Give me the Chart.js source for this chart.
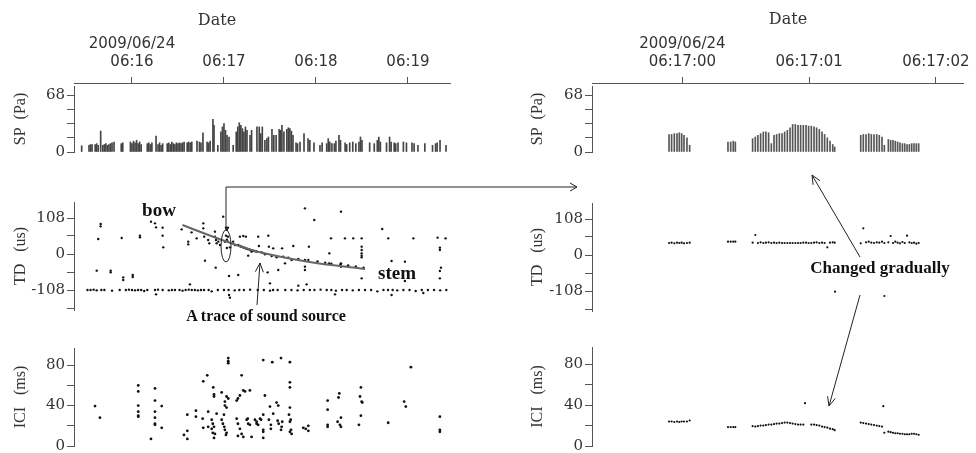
<!DOCTYPE html>
<html>
<head>
<meta charset="utf-8">
<script src="https://cdn.jsdelivr.net/npm/chart.js@4.4.1/dist/chart.umd.min.js"></script>
<style>
  html, body { margin: 0; padding: 0; background: #fff; }
  #page { position: relative; width: 976px; height: 453px; overflow: hidden; }
  #page canvas { position: absolute; }
  #notes { position: absolute; left: 0; top: 0; pointer-events: none; }
</style>
</head>
<body>
<div id="page">
  <canvas id="dateL"></canvas>
  <canvas id="spL"></canvas>
  <canvas id="tdL"></canvas>
  <canvas id="iciL"></canvas>
  <canvas id="dateR"></canvas>
  <canvas id="spR"></canvas>
  <canvas id="tdR"></canvas>
  <canvas id="iciR"></canvas>
  <svg id="notes" width="976" height="453"></svg>
</div>
<script>
// ---- data (left: seconds after 06:15:00, right: seconds after 06:17:00) ----
const dateLine = '2009/06/24';
const leftTickTimes = [60, 120, 180, 240];
const leftTickLabels = ['06:16', '06:17', '06:18', '06:19'];
const rightTickTimes = [0, 1, 2];
const rightTickLabels = ['06:17:00', '06:17:01', '06:17:02'];

const spTicks = [0, 17, 34, 51, 68];
const spLabelled = [0, 68];
const tdTicks = [-162, -108, -54, 0, 54, 108];
const tdLabelled = [-108, 0, 108];
const iciTicks = [0, 20, 40, 60, 80];
const iciLabelled = [0, 40, 80];

const leftSpTime = [
  27.2, 32, 33, 34, 36, 37, 38, 39.6, 41, 42,
  43, 44, 45, 46, 47, 48.3, 53, 54, 59, 60,
  61, 62, 63, 64, 65, 66, 70, 71, 72, 73,
  75.7, 77, 78, 79, 80, 83, 84, 85, 86, 87,
  88, 89, 90, 91, 92, 93, 94, 96, 97, 98,
  99, 102.4, 104, 105, 106.3, 109, 110, 111, 112.8, 113.5,
  116, 118, 119, 120, 121, 122, 123.3, 126, 128, 129,
  130, 131, 132, 133, 134, 135, 137, 138, 141.5, 143,
  144, 145, 146.7, 148, 149, 151.3, 152.5, 154, 156, 157,
  157.8, 159.1, 161, 162, 163, 164, 165, 167, 168, 169.6,
  172.2, 174.8, 176, 178.7, 182.6, 184, 187, 188, 189, 190.4,
  192, 193, 195, 196, 199, 200, 202, 204, 206, 208,
  209, 210, 215, 218, 220, 221, 222, 226, 228, 229,
  231, 232, 233.5, 237, 239, 242.6, 244, 246.5, 251, 256,
  258, 259, 260.9, 264.8
];
const leftSpValue = [
  7.5, 8, 9, 9, 9, 10, 8, 25, 8, 9,
  10, 8, 9, 10, 11, 12, 10, 11, 12, 10,
  13, 11, 14, 10, 12, 9, 10, 11, 9, 11,
  19, 9, 11, 8, 10, 10, 11, 9, 12, 10,
  9, 11, 10, 11, 10, 11, 12, 11, 12, 11,
  12, 13, 12, 11, 23, 12, 11, 13, 39, 32,
  8, 24, 30, 34, 26, 20, 18, 8, 24, 30,
  35, 32, 28, 24, 30, 26, 20, 26, 30, 30,
  22, 30, 14, 16, 18, 27, 20, 20, 27, 26,
  32, 24, 27, 29, 28, 25, 20, 11, 10, 12,
  22, 16, 14, 11, 8, 11, 10, 16, 12, 10,
  10, 13, 20, 14, 11, 9, 11, 12, 10, 12,
  18, 14, 11, 10, 14, 18, 12, 11, 18, 12,
  11, 10, 11, 12, 11, 11, 10, 8, 10, 8,
  10, 11, 14, 8
];

const leftTdTime = [
  37, 38, 39.6, 39.6, 46.1, 46.1, 53.3, 54.3, 54.3, 60.5, 60.5, 65.2, 65.2,
  72.4, 75, 75.7, 80, 80, 80.4, 92.4, 96.7, 96.7, 97.8, 98.9, 102.2,
  106.5, 106.5, 107.1, 107.6, 109.7, 110.4, 114.1, 114.1, 114.8, 115.2, 116.3, 117.4, 114.6, 119.5,
  121.3, 121.9, 122.6, 121.3, 122.6, 121.9, 120.6, 122.6, 123.9, 121.9,
  123.3, 126, 127.2, 129.3, 130.4, 132.6, 134.3,
  129.3, 130.4, 131.2, 132.1, 133, 133.8, 134.6, 135.5, 136.3, 137.2, 138, 138.9, 139.8, 140.6, 141.5,
  135.8, 138,
  172.8, 196.3, 178.9, 223.2, 142.3, 148.9, 189.8, 198.9, 204.3, 209.8, 227.1, 243.5, 259.3, 264.5,
  142.8, 149.3, 152.1, 157.9, 165.2, 175.4, 188.7, 209.8, 209.8, 209.8, 209.8, 209.8,
  144.6, 146.7, 151.1, 154.3, 158.6, 161.9, 164.1, 168.5, 172.8, 175, 172.8, 172.8,
  181, 186, 190, 196, 201, 206, 211,
  159.8, 155.4, 148.5, 188.5, 196.3, 196.3, 209.8, 229.3, 238, 238, 260.8, 260.8, 261.5, 260.8, 260.8,
  150, 173.9, 168.5,
  75.7, 123.3, 123.9, 192.4, 229.3, 250
];
const leftTdValue = [
  -50, 45, 90, 83, -50, -55, 48, -70, -78, -63, -69, 55, 50,
  97, 92, 80, 79, 55, 20, 74, 37, 29, -91, 65, 47,
  92, 77, 52, -20, 42, 32, 67, 52, 42, 32, 37, 27, -41, 112,
  79, 73, 79, 55, 52, 43, 37, 37, 20, 18,
  -66, 37, 27, -63, 52, 54, 52,
  27, 24, 22, 21, 19, 18, 16, 15, 14, 12, 11, 10, 9, 8, 7,
  -5, 7,
  137, 127, 102, 75, 52, 55, 47, 47, 47, 47, 47, 47, 49, 47,
  24, 22, 17, 17, 24, 22, 2, 22, 12, 2, -5, -10,
  5, -1, -6, -10, -8, -11, -18, -15, -18, -18, -38, -48,
  -22, -26, -29, -31, -34, -37, -41,
  -28, -48, -55, -28, -28, -38, -73, -21, -23, -81, 19, 12, -41, -51, -73,
  -88, -91, -95,
  -121, -123, -131, -121, -123, -117
];
// the dense row of detections near -108 us
const leftRowTime = [
  31, 33, 35, 37, 40, 42, 47, 52, 56, 58, 60, 62, 64, 66, 68, 70, 75, 77, 80, 84,
  86, 88, 91, 93, 95, 97, 99, 101, 103, 105, 107, 110, 112, 116, 120, 123, 127, 130, 133, 137,
  142, 146, 150, 152, 155, 160, 164, 168, 172, 176, 179, 183, 187, 190, 193, 197, 200, 204, 208, 212,
  216, 220, 224, 227, 230, 233, 237, 241, 245, 249, 253, 257, 261, 265
];
const leftRowValue = [
  -108, -108, -107, -109, -108, -108, -110, -108, -108, -107, -108, -109, -108, -108, -111, -108, -108, -107, -108, -109,
  -108, -108, -108, -110, -108, -107, -108, -108, -109, -108, -108, -108, -112, -108, -108, -108, -109, -108, -108, -107,
  -108, -108, -110, -108, -108, -108, -108, -109, -108, -108, -108, -107, -108, -108, -110, -108, -108, -109, -108, -108,
  -108, -112, -108, -108, -108, -109, -108, -108, -111, -108, -108, -108, -109, -108
];
// sound source trace (bow -> stem)
const traceTime = [92.9, 121.8, 142.2, 174.8, 212.0];
const traceValue = [87, 37, 7, -23, -45];

const leftIciTime = [
  35.9, 39.1,
  64.1, 64.1, 64.1, 64.1, 64.1, 64.1,
  72.4,
  75, 75, 75, 75, 75, 75,
  79.4, 79.4,
  93.9, 96.1, 96.1, 96.1,
  101.7, 101.7, 106.1, 106.5, 106.5, 109.1, 109.7, 115.2,
  113, 113.5, 113.5,
  112, 112.7, 113.5, 112, 112.7, 114.1, 113.5, 109.7,
  118.5, 120.6, 120.6, 121.7, 121.7, 122.8, 120,
  118.5, 119.3, 120.2, 120.6, 121.7, 121.3,
  122.8, 122.8, 122.8,
  128.3, 129.1, 130.4, 131.5, 132.6, 133.7, 136.9,
  128.3, 129.1, 130.4, 131.5, 132.6, 129.1, 134.8, 135.8, 136.9, 138, 140.2, 141.3, 135.5,
  145.6, 151.5, 157.2, 163, 163, 163, 146.7, 150, 154.3, 155.4, 163, 152.1,
  141.3, 143.5, 144.2, 145.6, 142.3, 145.6, 145.6,
  149.3, 150.6, 155, 155.7, 157.6, 158, 157.2, 150.6,
  145.6,
  162.4, 163.5, 163, 163.7, 164.1, 163,
  171.7, 173.3, 175, 175,
  187.6, 187.6, 187.6, 187.6,
  195.2, 194.7, 196.3, 194.1, 195.6, 196.3,
  209.3, 208.7, 209.8, 210.2, 209.3, 208,
  227.1, 237.5, 238.6, 241.9,
  260.8, 260.8, 260.8
];
const leftIciValue = [
  39.5, 28,
  60, 54, 40, 34, 30, 29,
  7,
  57, 45, 34, 28, 22, 21,
  39.5, 18,
  11, 15, 7, 31,
  35, 29, 27, 18, 64, 70, 34, 32,
  58, 51, 49,
  26, 22, 19, 17, 13, 12, 8, 19,
  53, 44, 40, 38, 49, 47, 31,
  26, 22, 19, 16, 13, 11,
  87, 84, 82,
  45, 47, 50, 70, 55, 54, 55,
  27, 22, 17, 12, 9, 10, 26, 22, 21, 9, 26, 22, 27,
  85, 83, 87, 83, 63, 58, 50, 39, 43, 40, 38, 32,
  24, 27, 26, 31, 21, 16, 14,
  26, 21, 25, 22, 19, 24, 16, 17,
  8,
  31, 26, 24, 16, 12, 14,
  18, 17, 20, 15,
  45, 36, 21, 19,
  52, 48, 28, 24, 21, 19,
  58, 49, 44, 43, 30, 21,
  23, 44, 39, 78,
  29, 16, 14
];

// right: one entry per click, groups of 9, 4, 32, 10, 14
const rightTime = [
  -0.116, -0.096, -0.075, -0.054, -0.036, -0.018, 0, 0.023, 0.044,
  0.341, 0.362, 0.382, 0.398,
  0.532, 0.553, 0.573, 0.594, 0.615, 0.635, 0.656, 0.677, 0.698, 0.718,
  0.739, 0.760, 0.780, 0.801, 0.822, 0.842, 0.863, 0.884, 0.904, 0.925,
  0.946, 0.966, 0.987, 1.008, 1.028, 1.049, 1.070, 1.090, 1.111, 1.132,
  1.153, 1.168,
  1.370, 1.390, 1.411, 1.432, 1.452, 1.473, 1.494, 1.514, 1.535, 1.553,
  1.584, 1.602, 1.620, 1.638, 1.656, 1.674, 1.693, 1.711, 1.729, 1.747,
  1.765, 1.783, 1.801, 1.819
];
const rightSp = [
  21, 21, 22, 22, 23, 22, 20, 17, 8,
  12, 12, 13, 12,
  16, 18, 20, 22, 24, 24, 23, 10, 20, 21,
  22, 22, 24, 26, 29, 33, 33, 32, 32, 32,
  32, 31, 31, 30, 29, 27, 24, 21, 17, 13,
  9, 6,
  20, 21, 21, 22, 21, 21, 21, 20, 18, 8,
  15, 14, 14, 13, 12, 11, 10, 10, 9, 9,
  10, 10, 10, 10
];
const rightTd = [
  36, 37, 35, 37, 36, 37, 35, 36, 37,
  40, 40, 40, 40,
  37, 60, 36, 38, 36, 37, 38, 36, 37, 36,
  37, 36, 36, 36, 36, 36, 36, 36, 36, 37,
  37, 36, 36, 37, 38, 36, 37, 36, 23, 37,
  38, 37,
  35, 80, 38, 40, 37, 36, 38, 37, 40, 36,
  38, 57, 36, 40, 37, 35, 39, 36, 58, 38,
  36, 37, 34, 36
];
const rightIci = [
  24, 24, 23.5, 24, 23.5, 24, 24, 24, 25,
  18.5, 18.5, 18.5, 18.5,
  19.5, 19, 19.5, 20, 20, 20.5, 21, 21, 21.5, 22,
  22, 22.5, 23, 23, 22.5, 22, 21.5, 21, 21, 21,
  null, null, 21, 21, 20.5, 20, 19, 18.5, 18, 17,
  16.5, 15.5,
  23, 22.5, 22, 21.5, 21, 20.5, 20, 19.5, 19, 13,
  14, 13.5, 13, 12.5, 12.5, 12, 12, 11.5, 11.5, 11.5,
  12, 12, 11.5, 11
];
const rightTdExtraTime = [1.171, 1.553];
const rightTdExtra = [-110, -123];
const rightIciExtraTime = [0.938, 1.545];
const rightIciExtra = [42, 39];

// ---- layout ----
const PAD = 12;
const leftCol = { x: 0, w: 470, axisW: 74, padR: 20, titlePad: 11, min: 22.2, max: 267.4 };
const rightCol = { x: 490, w: 486, axisW: 102, padR: 6, titlePad: 38, min: -0.713, max: 2.217 };

const ink = '#333';
const axisInk = '#555';
const tickFont = { family: 'DejaVu Sans', size: 15 };
const numFont = { family: 'DejaVu Serif', size: 15 };
const titleFont = { family: 'Liberation Serif', size: 16 };

function zip(xs, ys) {
  const out = [];
  xs.forEach((x, i) => { if (ys[i] !== null) out.push({ x: x, y: ys[i] }); });
  return out;
}

function place(id, col, top, height) {
  const c = document.getElementById(id);
  c.width = col.w;
  c.height = height;
  c.style.left = col.x + 'px';
  c.style.top = top + 'px';
  return c;
}

function yAxis(col, min, max, tickVals, labelled, title) {
  return {
    min: min, max: max,
    afterFit: s => { s.width = col.axisW; },
    afterBuildTicks: s => { s.ticks = tickVals.map(v => ({ value: v })); },
    ticks: {
      autoSkip: false, padding: 2, color: ink, font: numFont,
      callback: v => labelled.includes(v) ? String(v) : ''
    },
    grid: { drawOnChartArea: false, drawTicks: true, tickLength: 7, color: axisInk },
    border: { display: true, color: axisInk, width: 1 },
    title: { display: true, text: title, color: ink, font: titleFont, padding: { top: col.titlePad, bottom: 0 } }
  };
}

const baseOpts = {
  responsive: false,
  animation: false,
  events: [],
  plugins: { legend: { display: false }, tooltip: { enabled: false } }
};

function panel(id, col, top, bottom, type, datasets, yCfg) {
  const canvas = place(id, col, top - PAD, bottom - top + 2 * PAD);
  return new Chart(canvas, {
    type: type,
    data: { datasets: datasets },
    options: Object.assign({}, baseOpts, {
      layout: { padding: { left: 0, right: col.padR, top: PAD, bottom: PAD } },
      scales: {
        x: { type: 'linear', display: false, offset: false, min: col.min, max: col.max },
        y: yCfg
      }
    })
  });
}

function dateAxis(id, col, tickTimes, tickLabels) {
  const canvas = place(id, col, 0, 86);
  return new Chart(canvas, {
    type: 'scatter',
    data: { datasets: [{ data: [] }] },
    options: Object.assign({}, baseOpts, {
      layout: { padding: { left: col.axisW, right: col.padR, top: 0, bottom: 0 } },
      scales: {
        x: {
          type: 'linear', position: 'top', min: col.min, max: col.max,
          afterFit: s => { s.height = 83; },
          afterBuildTicks: s => { s.ticks = tickTimes.map(v => ({ value: v })); },
          ticks: {
            autoSkip: false, maxRotation: 0, padding: 6, color: ink, font: tickFont,
            callback: v => {
              const i = tickTimes.indexOf(v);
              return i === 0 ? [dateLine, tickLabels[0]] : tickLabels[i];
            }
          },
          grid: { drawOnChartArea: false, drawTicks: true, tickLength: 6, color: axisInk },
          border: { display: true, color: axisInk }
        },
        y: { display: false }
      }
    })
  });
}

function bars(xs, ys) {
  return { data: zip(xs, ys), backgroundColor: '#444', borderWidth: 0, barThickness: 1, grouped: false };
}
function dots(xs, ys, r) {
  return { data: zip(xs, ys), backgroundColor: '#111', borderWidth: 0, pointRadius: r };
}

// ---- left column ----
dateAxis('dateL', leftCol, leftTickTimes, leftTickLabels);
panel('spL', leftCol, 86, 152, 'bar', [bars(leftSpTime, leftSpValue)],
  yAxis(leftCol, 0, 79, spTicks, spLabelled, 'SP  (Pa)'));
panel('tdL', leftCol, 202, 310, 'scatter', [
  { data: zip(traceTime, traceValue), showLine: true, borderColor: '#666', borderWidth: 2,
    pointRadius: 0, tension: 0.4, order: 0 },
  Object.assign(dots(leftTdTime, leftTdValue, 1.2), { order: 1 }),
  Object.assign(dots(leftRowTime, leftRowValue, 1.2), { order: 1 })
], yAxis(leftCol, -168, 156, tdTicks, tdLabelled, 'TD   (us)'));
panel('iciL', leftCol, 348, 446, 'scatter', [dots(leftIciTime, leftIciValue, 1.4)],
  yAxis(leftCol, 0, 97, iciTicks, iciLabelled, 'ICI   (ms)'));

// ---- right column ----
dateAxis('dateR', rightCol, rightTickTimes, rightTickLabels);
panel('spR', rightCol, 86, 152, 'bar', [
  Object.assign(bars(rightTime, rightSp), { backgroundColor: '#555' })
], yAxis(rightCol, 0, 79, spTicks, spLabelled, 'SP  (Pa)'));
panel('tdR', rightCol, 203, 311, 'scatter', [
  dots(rightTime, rightTd, 1.1),
  dots(rightTdExtraTime, rightTdExtra, 1.1)
], yAxis(rightCol, -168, 156, tdTicks, tdLabelled, 'TD   (us)'));
panel('iciR', rightCol, 347, 446, 'scatter', [
  dots(rightTime, rightIci, 1.1),
  dots(rightIciExtraTime, rightIciExtra, 1.1)
], yAxis(rightCol, 0, 97, iciTicks, iciLabelled, 'ICI   (ms)'));

// ---- annotations ----
function arrowPath(x1, y1, x2, y2) {
  const len = Math.hypot(x2 - x1, y2 - y1);
  const dx = (x2 - x1) / len, dy = (y2 - y1) / len;
  const bx = x2 - dx * 9, by = y2 - dy * 9;
  const px = -dy * 4, py = dx * 4;
  return `M${x1},${y1} L${x2},${y2} M${bx + px},${by + py} L${x2},${y2} L${bx - px},${by - py}`;
}
const svg = document.getElementById('notes');
svg.innerHTML = `
  <g font-family="DejaVu Serif" font-size="16" fill="${ink}" text-anchor="middle">
    <text x="217" y="25">Date</text>
    <text x="788" y="24">Date</text>
  </g>
  <g fill="none" stroke="#222" stroke-width="1">
    <ellipse cx="226" cy="246" rx="5" ry="16"/>
    <path d="M226,230 L226,187 L577,187"/>
    <path d="M570,183 L577,187 L570,191"/>
    <path d="${arrowPath(257, 305, 260, 263)}"/>
    <path d="${arrowPath(860, 257, 812, 175)}"/>
    <path d="${arrowPath(860, 295, 829, 406)}"/>
  </g>
  <g font-family="Liberation Serif" font-weight="bold" fill="#111" text-anchor="middle">
    <text x="159" y="216" font-size="19">bow</text>
    <text x="397" y="279" font-size="19">stem</text>
    <text x="266" y="321" font-size="16">A trace of sound source</text>
    <text x="880" y="273" font-size="17">Changed gradually</text>
  </g>`;
</script>
</body>
</html>
